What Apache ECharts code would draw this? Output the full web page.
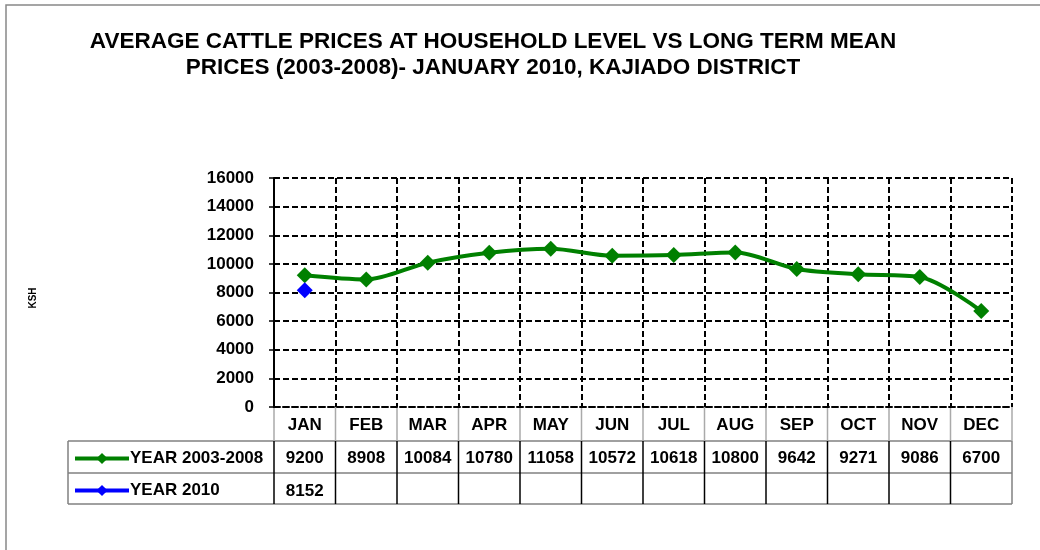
<!DOCTYPE html>
<html>
<head>
<meta charset="utf-8">
<script src="https://cdn.jsdelivr.net/npm/echarts@6/dist/echarts.min.js"></script>
<style>html,body{margin:0;padding:0;background:#fff}#c{width:1040px;height:550px}</style>
</head>
<body>
<div id="c"></div>
<script>
var months = ['JAN','FEB','MAR','APR','MAY','JUN','JUL','AUG','SEP','OCT','NOV','DEC'];
var mean2003_2008 = [9200, 8908, 10084, 10780, 11058, 10572, 10618, 10800, 9642, 9271, 9086, 6700];
var year2010 = [8152, null, null, null, null, null, null, null, null, null, null, null];
var seriesNames = ['YEAR 2003-2008', 'YEAR 2010'];
var yTicks = {min: 0, max: 16000, interval: 2000};

var G = {left: 274, right: 1012, top: 178, bottom: 407};
var rowH = [407, 441, 473, 504];
var tableLeft = 68;
var cellW = (G.right - G.left) / months.length;
var FONT = 'Liberation Sans, Arial, sans-serif';

function tableGraphics() {
  var els = [];
  function line(x1, y1, x2, y2, c, w) {
    els.push({type: 'line', shape: {x1: x1, y1: y1, x2: x2, y2: y2}, style: {stroke: c, lineWidth: w || 1}, silent: true});
  }
  line(tableLeft, rowH[1], G.right, rowH[1], '#808080', 1.5);
  line(tableLeft, rowH[2], G.right, rowH[2], '#808080', 1.5);
  line(tableLeft, rowH[3], G.right, rowH[3], '#808080', 1.5);
  line(tableLeft, rowH[1], tableLeft, rowH[3], '#808080', 1.5);
  for (var i = 0; i <= months.length; i++) {
    var x = G.left + i * cellW;
    line(x, rowH[0], x, rowH[1], '#aaaaaa', 1.5);
    line(x, rowH[1], x, rowH[3], (i === months.length ? '#808080' : '#000'), 1.5);
  }
  els.push({type: 'rect', shape: {x: 6, y: 5, width: 1100, height: 600}, style: {fill: null, stroke: '#888', lineWidth: 1.5}, silent: true});
  els.push({type: 'text', x: 33, y: 298, rotation: Math.PI / 2,
    style: {text: 'KSH', fontFamily: FONT, fontWeight: 'bold', fontSize: 10, fill: '#000', align: 'center', verticalAlign: 'middle'}, silent: true});
  return els;
}

var labelStyle = {fontFamily: FONT, fontWeight: 'bold', fontSize: 17, color: '#000'};

var chart = echarts.init(document.getElementById('c'), null, {renderer: 'canvas'});
chart.setOption({
  animation: false,
  backgroundColor: '#fff',
  title: {
    text: 'AVERAGE CATTLE PRICES AT HOUSEHOLD LEVEL VS LONG TERM MEAN\nPRICES (2003-2008)- JANUARY 2010, KAJIADO DISTRICT',
    left: 488, top: 24, textAlign: 'center',
    textStyle: {fontFamily: FONT, fontWeight: 'bold', fontSize: 22.5, lineHeight: 26, color: '#000'}
  },
  legend: {
    orient: 'vertical', left: 68, top: 445, itemGap: 15, itemWidth: 54, itemHeight: 14,
    data: seriesNames,
    lineStyle: {width: 4},
    textStyle: {fontFamily: FONT, fontWeight: 'bold', fontSize: 17, color: '#000', padding: [0, 0, 0, -4]}
  },
  grid: {left: G.left, top: G.top, width: G.right - G.left, height: G.bottom - G.top},
  xAxis: [{
    type: 'category', data: months, boundaryGap: true, position: 'bottom',
    axisLine: {show: true, lineStyle: {color: '#000', width: 2, type: [6, 3]}},
    axisTick: {show: false},
    axisLabel: Object.assign({margin: 10, interval: 0}, labelStyle),
    splitLine: {show: true, interval: 0, lineStyle: {color: '#000', width: 2, type: [6, 3]}}
  }, {
    type: 'category', data: mean2003_2008.map(String), position: 'bottom', offset: 33,
    axisLine: {show: false}, axisTick: {show: false},
    axisLabel: Object.assign({margin: 10, interval: 0}, labelStyle)
  }, {
    type: 'category', data: year2010.map(function (v) { return v == null ? '' : String(v); }), position: 'bottom', offset: 66,
    axisLine: {show: false}, axisTick: {show: false},
    axisLabel: Object.assign({margin: 10, interval: 0}, labelStyle)
  }],
  yAxis: {
    type: 'value', min: yTicks.min, max: yTicks.max, interval: yTicks.interval,
    axisLine: {show: true, lineStyle: {color: '#000', width: 2}},
    axisTick: {show: true, length: 5, lineStyle: {color: '#000', width: 1.5}},
    axisLabel: Object.assign({margin: 20, formatter: function (v) { return String(v); }}, labelStyle),
    splitLine: {show: true, lineStyle: {color: '#000', width: 2, type: [6, 3]}}
  },
  series: [{
    name: seriesNames[0], type: 'line', data: mean2003_2008, smooth: 0.3,
    symbol: 'diamond', symbolSize: 16,
    lineStyle: {color: '#008000', width: 4},
    itemStyle: {color: '#008000'}, z: 3
  }, {
    name: seriesNames[1], type: 'line', data: year2010,
    symbol: 'diamond', symbolSize: 16,
    lineStyle: {color: '#0000ff', width: 4},
    itemStyle: {color: '#0000ff'}, z: 4
  }],
  graphic: tableGraphics()
});
</script>
</body>
</html>
